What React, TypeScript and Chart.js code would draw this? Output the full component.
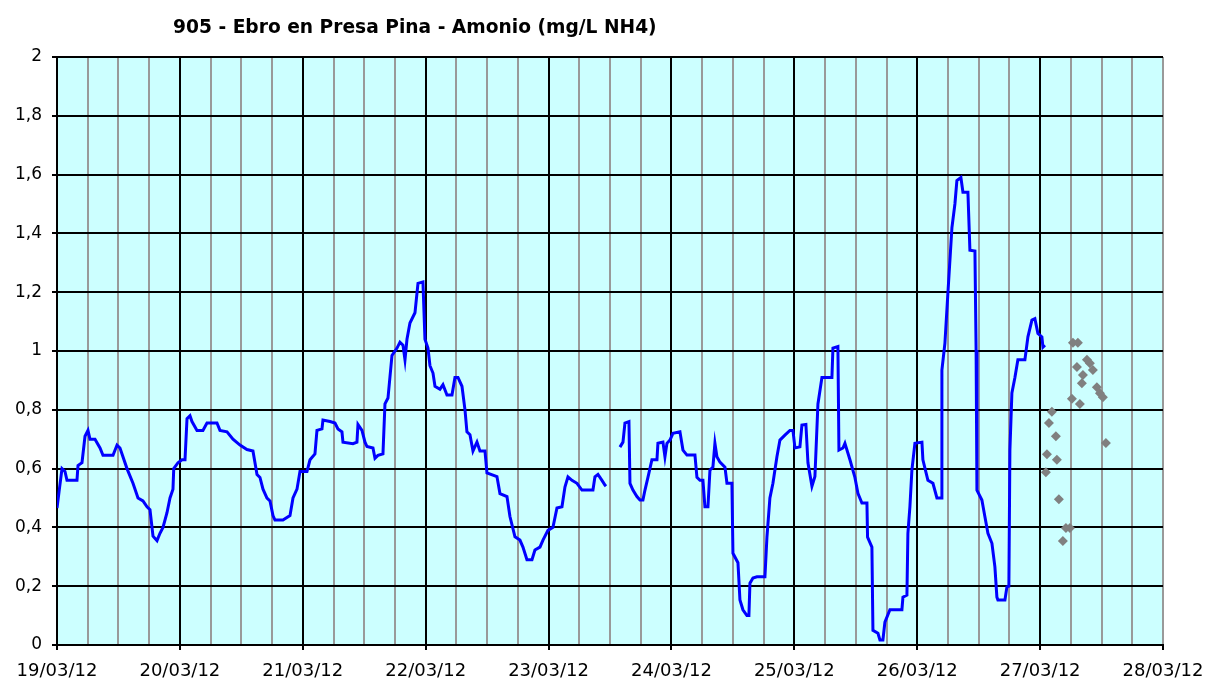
import React, { useEffect, useRef } from "react";
import { Chart, registerables } from "chart.js";

Chart.register(...registerables);

const TITLE = "905 - Ebro en Presa Pina - Amonio (mg/L NH4)";
const DAY_LABELS = ["19/03/12", "20/03/12", "21/03/12", "22/03/12", "23/03/12", "24/03/12", "25/03/12", "26/03/12", "27/03/12", "28/03/12"];

// hours since 19/03/12 00:00
const lineHours = [
  0, 0.39, 0.98, 1.56, 1.95, 3.9, 4.1, 4.88, 5.47, 6.05, 6.44, 7.42, 8.4, 8.98, 10.94, 11.72, 12.3, 13.67, 14.84, 15.82,
  16.79, 17.58, 18.16, 18.75, 19.53, 20.11, 20.7, 21.48, 22.07, 22.65, 22.8, 23.63, 24.41, 25.0, 25.39, 25.97, 26.36, 27.34, 28.5, 29.29,
  31.24, 31.83, 33.2, 34.37, 35.74, 37.1, 38.27, 39.06, 39.64, 40.23, 41.01, 41.6, 42.18, 42.57, 44.13, 45.5, 46.09, 46.87, 47.45, 48.82,
  49.41, 50.38, 50.77, 51.75, 51.94, 53.31, 54.29, 54.87, 55.65, 55.85, 57.8, 58.58, 58.78, 59.56, 60.15, 60.54, 61.71, 62.1, 62.68, 63.66,
  64.05, 64.64, 65.42, 66.4, 66.98, 67.57, 67.96, 68.35, 68.93, 69.91, 70.5, 71.47, 71.86, 72.45, 72.84, 73.43, 73.82, 74.79, 75.38, 76.16,
  77.14, 77.72, 78.31, 79.09, 79.68, 80.06, 80.65, 81.24, 82.02, 82.6, 83.58, 83.97, 85.92, 86.51, 87.88, 88.46, 89.44, 90.41, 91.0, 91.78,
  92.76, 93.34, 94.32, 94.91, 95.88, 96.86, 97.64, 98.62, 99.2, 99.79, 100.57, 101.55, 102.52, 104.67, 105.06, 105.65, 106.43, 107.01, 107.21,
  108.5,
  109.94, 110.53, 110.92, 111.7, 111.9, 112.48, 113.26, 113.85, 114.43, 114.83, 115.41, 116.19, 117.17, 117.36, 118.34, 118.73, 119.12, 119.71, 120.29,
  121.66, 122.25, 123.03, 124.59, 124.98, 125.57, 126.15, 126.54, 127.13, 127.52, 128.1, 128.49, 128.88, 129.47, 130.45, 130.84, 131.81, 132.01, 132.99,
  133.38, 133.96, 134.74, 135.13, 135.33, 135.92, 136.7, 138.26, 138.65, 139.23, 139.82, 140.6, 141.19, 142.16, 143.14, 143.73, 144.12, 145.09, 145.48,
  146.26, 146.66, 147.44, 148.02, 148.61, 149.39, 151.34, 151.54, 152.51, 152.71, 153.49, 153.88, 154.86, 155.83, 156.42, 157.2, 158.18, 158.3, 159.15,
  159.35, 160.33, 160.72, 161.3, 161.69, 162.67, 165.01, 165.21, 165.99, 166.18, 166.57, 166.96, 167.55, 168.92, 169.11, 170.09, 171.07, 171.85, 172.7,
  172.82, 173.41, 173.99, 174.78, 175.36, 175.75, 176.53, 176.93, 177.9, 178.29, 179.27, 179.5, 179.66, 180.63, 181.22, 181.81, 182.59, 183.17, 183.56,
  183.76, 185.13, 185.52, 185.9, 186.1, 186.49, 187.08, 187.66, 189.03, 189.62, 190.4, 190.98, 191.57, 192.35, 192.55, 192.94,
];

const lineValues = [
  0.466, 0.52, 0.6, 0.59, 0.56, 0.56, 0.61, 0.62, 0.71, 0.73, 0.7, 0.7, 0.67, 0.645, 0.645, 0.68, 0.67, 0.6, 0.55, 0.5,
  0.49, 0.47, 0.46, 0.37, 0.355, 0.38, 0.4, 0.45, 0.5, 0.53, 0.6, 0.62, 0.63, 0.63, 0.77, 0.78, 0.76, 0.73, 0.73, 0.755,
  0.755, 0.73, 0.725, 0.7, 0.68, 0.665, 0.66, 0.58, 0.57, 0.53, 0.5, 0.49, 0.44, 0.425, 0.425, 0.44, 0.5, 0.53, 0.59, 0.59,
  0.63, 0.65, 0.73, 0.735, 0.765, 0.76, 0.755, 0.735, 0.725, 0.69, 0.685, 0.69, 0.75, 0.73, 0.69, 0.675, 0.67, 0.635, 0.645, 0.65,
  0.82, 0.84, 0.985, 1.01, 1.03, 1.02, 0.97, 1.04, 1.095, 1.13, 1.23, 1.235, 1.04, 1.01, 0.95, 0.925, 0.88, 0.87, 0.885, 0.85,
  0.85, 0.91, 0.91, 0.88, 0.8, 0.725, 0.715, 0.66, 0.69, 0.66, 0.66, 0.585, 0.573, 0.515, 0.505, 0.437, 0.368, 0.357, 0.333, 0.29,
  0.29, 0.323, 0.333, 0.357, 0.39, 0.4, 0.466, 0.47, 0.537, 0.572, 0.56, 0.55, 0.527, 0.527, 0.572, 0.58, 0.56, 0.544, 0.54,
  null,
  0.673, 0.69, 0.755, 0.76, 0.55, 0.527, 0.505, 0.493, 0.493, 0.527, 0.57, 0.63, 0.63, 0.686, 0.69, 0.64, 0.686, 0.697, 0.72,
  0.725, 0.663, 0.646, 0.646, 0.57, 0.56, 0.56, 0.47, 0.47, 0.595, 0.605, 0.686, 0.64, 0.622, 0.605, 0.55, 0.55, 0.312, 0.28,
  0.153, 0.12, 0.1, 0.1, 0.21, 0.228, 0.232, 0.232, 0.367, 0.5, 0.55, 0.64, 0.697, 0.714, 0.73, 0.73, 0.67, 0.674, 0.748,
  0.75, 0.62, 0.54, 0.573, 0.82, 0.91, 0.91, 1.01, 1.015, 0.663, 0.67, 0.686, 0.63, 0.57, 0.516, 0.483, 0.483, 0.367, 0.333,
  0.05, 0.04, 0.017, 0.017, 0.078, 0.12, 0.12, 0.163, 0.17, 0.38, 0.47, 0.595, 0.686, 0.69, 0.63, 0.56, 0.55, 0.5, 0.5,
  0.935, 1.027, 1.197, 1.42, 1.5, 1.58, 1.59, 1.54, 1.54, 1.343, 1.34, 1.003, 0.527, 0.493, 0.436, 0.38, 0.346, 0.266, 0.163,
  0.153, 0.153, 0.198, 0.2, 0.663, 0.857, 0.91, 0.97, 0.97, 1.048, 1.105, 1.11, 1.06, 1.048, 1.013, 1.02,
];

const pointHours = [
  193.13, 193.33, 193.72, 194.3, 195.08, 195.28, 195.67, 196.45, 197.04, 197.82, 198.21, 198.41, 199.38, 199.19,
  199.77, 200.16, 200.36, 201.14, 201.72, 202.31, 203.09, 203.68, 204.26, 204.85,
];
const pointValues = [
  0.588, 0.649, 0.755, 0.793, 0.71, 0.63, 0.496, 0.354, 0.398, 0.398, 0.838, 1.028, 1.028, 0.946,
  0.82, 0.89, 0.918, 0.97, 0.958, 0.935, 0.877, 0.856, 0.843, 0.687,
];

const Y_TICKS_STEP = 0.2;

export default function App() {
  const canvasRef = useRef<HTMLCanvasElement | null>(null);

  useEffect(() => {
    document.body.style.margin = "0";
    const canvas = canvasRef.current;
    if (!canvas) return;

    const titlePlugin = {
      id: "customTitle",
      afterDraw(chart: any) {
        const ctx = chart.ctx;
        ctx.save();
        let size = 19;
        ctx.font = `bold ${size}px "DejaVu Sans"`;
        const w = ctx.measureText(TITLE).width;
        const target = 484;
        size = Math.min(21, size * (target / w));
        ctx.font = `bold ${size.toFixed(2)}px "DejaVu Sans"`;
        ctx.fillStyle = "#000";
        ctx.textBaseline = "alphabetic";
        ctx.textAlign = "left";
        ctx.fillText(TITLE, 173, 33);
        ctx.restore();
      },
    };

    const bgPlugin = {
      id: "plotBg",
      beforeDraw(chart: any) {
        const { ctx, chartArea } = chart;
        ctx.save();
        ctx.fillStyle = "#ffffff";
        ctx.fillRect(0, 0, chart.width, chart.height);
        ctx.fillStyle = "#CCFFFF";
        ctx.fillRect(chartArea.left, chartArea.top, chartArea.right - chartArea.left, chartArea.bottom - chartArea.top);
        ctx.restore();
      },
    };

    const chart = new Chart(canvas, {
      type: "line",
      data: {
        datasets: [
          {
            type: "line",
            label: "Amonio",
            data: lineHours.map((h, i) => ({ x: h, y: lineValues[i] })),
            borderColor: "#0000FF",
            backgroundColor: "#0000FF",
            borderWidth: 3,
            pointRadius: 0,
            tension: 0,
            spanGaps: false,
            order: 2,
          },
          {
            type: "scatter",
            label: "Laboratorio",
            data: pointHours.map((h, i) => ({ x: h, y: pointValues[i] })),
            pointStyle: "rectRot",
            pointRadius: 5,
            pointBackgroundColor: "#808080",
            pointBorderColor: "#808080",
            pointBorderWidth: 0,
            showLine: false,
            order: 1,
          },
        ],
      },
      options: {
        animation: false,
        responsive: true,
        maintainAspectRatio: false,
        layout: { padding: { top: 57, right: 46, left: 0, bottom: 0 } },
        plugins: {
          legend: { display: false },
          title: { display: false },
          tooltip: { enabled: false },
        },
        scales: {
          x: {
            type: "linear",
            min: 0,
            max: 216,
            afterFit(scale: any) {
              scale.height = 34;
              scale.paddingLeft = 0;
              scale.paddingRight = 0;
            },
            afterBuildTicks(scale: any) {
              const t = [];
              for (let v = 0; v <= 216; v += 6) t.push({ value: v });
              scale.ticks = t;
            },
            ticks: {
              autoSkip: false,
              maxRotation: 0,
              minRotation: 0,
              padding: 11,
              color: "#000",
              font: { family: "DejaVu Sans", size: 18 },
              callback(value: any) {
                const v = Number(value);
                if (v % 24 === 0) return DAY_LABELS[v / 24];
                return "";
              },
            },
            grid: {
              drawOnChartArea: true,
              tickLength: 5,
              lineWidth: 2,
              color(ctx: any) {
                const v = ctx.tick ? ctx.tick.value : 0;
                if (v % 24 === 0 && v !== 216) return "#000000";
                return "#999999";
              },
              tickColor(ctx: any) {
                const v = ctx.tick ? ctx.tick.value : 0;
                return v % 24 === 0 ? "#000000" : "rgba(0,0,0,0)";
              },
            },
            border: { display: true, color: "#000", width: 2 },
          },
          y: {
            min: 0,
            max: 2,
            afterFit(scale: any) {
              scale.width = 57;
              scale.paddingTop = 0;
              scale.paddingBottom = 0;
            },
            ticks: {
              stepSize: Y_TICKS_STEP,
              padding: 10,
              color: "#000",
              font: { family: "DejaVu Sans", size: 17 },
              callback(value: any) {
                const v = Math.round(Number(value) * 10) / 10;
                return String(v).replace(".", ",");
              },
            },
            grid: {
              color: "#000000",
              lineWidth: 2,
              tickLength: 5,
              tickColor: "#000000",
            },
            border: { display: true, color: "#000", width: 2 },
          },
        },
      },
      plugins: [bgPlugin, titlePlugin],
    } as any);

    return () => {
      chart.destroy();
    };
  }, []);

  return (
    <div style={{ position: "relative", width: 1209, height: 679 }}>
      <canvas ref={canvasRef} />
    </div>
  );
}
